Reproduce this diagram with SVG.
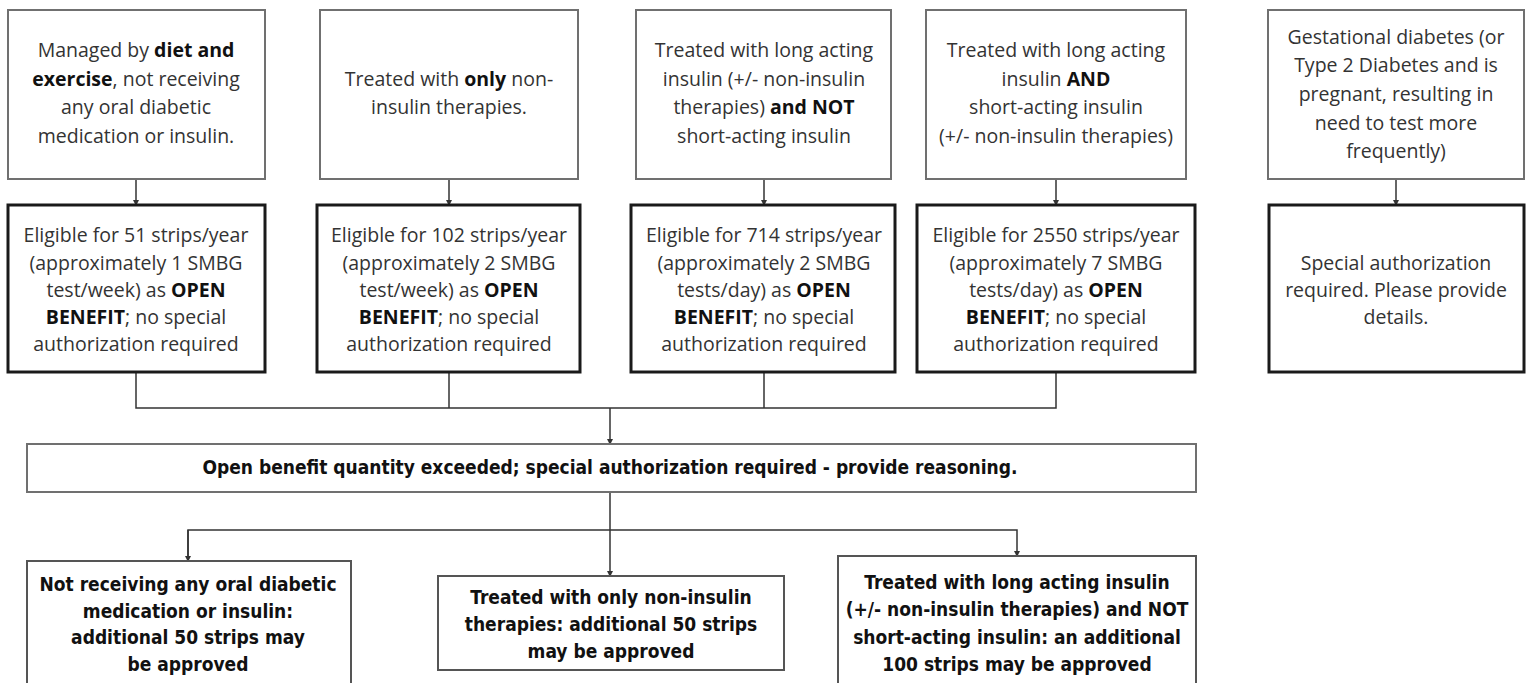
<svg xmlns="http://www.w3.org/2000/svg" width="1532" height="683" viewBox="0 0 1532 683">
<style>
.b1{fill:#fff;stroke:#707070;stroke-width:2}
.b2{fill:#fff;stroke:#1a1a1a;stroke-width:3}
.b3{fill:#fff;stroke:#555;stroke-width:2}
.t{font-family:"Open Sans","Noto Sans",sans-serif;font-size:19.5px;fill:#333;text-anchor:middle}
.bd{font-weight:bold;fill:#111}
.n{font-family:"Liberation Sans Narrow","DejaVu Sans Condensed",sans-serif;font-weight:bold;font-size:19px;fill:#111;text-anchor:middle}
.c{fill:none;stroke:#333;stroke-width:1.5}
</style>
<defs>
<marker id="ah" markerWidth="6" markerHeight="6" refX="5" refY="3" orient="auto" markerUnits="userSpaceOnUse">
<path d="M0,0 L6,3 L0,6 z" fill="#333"/>
</marker>
</defs>
<rect width="1532" height="683" fill="#fff"/>
<g id="connectors">
<path class="c" d="M136,179 V205" marker-end="url(#ah)"/>
<path class="c" d="M449,179 V205" marker-end="url(#ah)"/>
<path class="c" d="M764,179 V205" marker-end="url(#ah)"/>
<path class="c" d="M1056,179 V205" marker-end="url(#ah)"/>
<path class="c" d="M1396,179 V205" marker-end="url(#ah)"/>
<path class="c" d="M136,372 V408 H1056 V372"/>
<path class="c" d="M449,372 V408"/>
<path class="c" d="M764,372 V408"/>
<path class="c" d="M610,408 V444" marker-end="url(#ah)"/>
<path class="c" d="M610,492 V576" marker-end="url(#ah)"/>
<path class="c" d="M188,561 V530 H1017 V556" marker-end="url(#ah)"/>
<path class="c" d="M188,530 V561" marker-end="url(#ah)"/>
</g>
<g id="n1">
<rect class="b1" x="8" y="10" width="257" height="169"/>
<text class="t" x="136" y="57">Managed by <tspan class="bd">diet and</tspan></text>
<text class="t" x="136" y="86"><tspan class="bd">exercise</tspan>, not receiving</text>
<text class="t" x="136" y="114">any oral diabetic</text>
<text class="t" x="136" y="143">medication or insulin.</text>
</g>
<g id="n2">
<rect class="b1" x="320" y="10" width="258" height="169"/>
<text class="t" x="449" y="86">Treated with <tspan class="bd">only</tspan> non-</text>
<text class="t" x="449" y="114">insulin therapies.</text>
</g>
<g id="n3">
<rect class="b1" x="636" y="10" width="255" height="169"/>
<text class="t" x="764" y="57">Treated  with long acting</text>
<text class="t" x="764" y="86">insulin (+/- non-insulin</text>
<text class="t" x="764" y="114">therapies) <tspan class="bd">and NOT</tspan></text>
<text class="t" x="764" y="143">short-acting insulin</text>
</g>
<g id="n4">
<rect class="b1" x="926" y="10" width="260" height="169"/>
<text class="t" x="1056" y="57">Treated with long acting</text>
<text class="t" x="1056" y="86">insulin <tspan class="bd">AND</tspan></text>
<text class="t" x="1056" y="114">short-acting insulin</text>
<text class="t" x="1056" y="143">(+/- non-insulin therapies)</text>
</g>
<g id="n5">
<rect class="b1" x="1268" y="10" width="256" height="169"/>
<text class="t" x="1396" y="44">Gestational diabetes (or</text>
<text class="t" x="1396" y="72">Type 2 Diabetes and is</text>
<text class="t" x="1396" y="101">pregnant, resulting in</text>
<text class="t" x="1396" y="130">need to test more</text>
<text class="t" x="1396" y="158">frequently)</text>
</g>
<g id="e1">
<rect class="b2" x="8" y="205" width="257" height="167"/>
<text class="t" x="136" y="242">Eligible for 51 strips/year</text>
<text class="t" x="136" y="270">(approximately 1 SMBG</text>
<text class="t" x="136" y="297">test/week) as <tspan class="bd">OPEN</tspan></text>
<text class="t" x="136" y="324"><tspan class="bd">BENEFIT</tspan>; no special</text>
<text class="t" x="136" y="351">authorization required</text>
</g>
<g id="e2">
<rect class="b2" x="317" y="205" width="263" height="167"/>
<text class="t" x="449" y="242">Eligible for 102 strips/year</text>
<text class="t" x="449" y="270">(approximately 2 SMBG</text>
<text class="t" x="449" y="297">test/week) as <tspan class="bd">OPEN</tspan></text>
<text class="t" x="449" y="324"><tspan class="bd">BENEFIT</tspan>; no special</text>
<text class="t" x="449" y="351">authorization required</text>
</g>
<g id="e3">
<rect class="b2" x="631" y="205" width="264" height="167"/>
<text class="t" x="764" y="242">Eligible for 714 strips/year</text>
<text class="t" x="764" y="270">(approximately 2 SMBG</text>
<text class="t" x="764" y="297">tests/day) as <tspan class="bd">OPEN</tspan></text>
<text class="t" x="764" y="324"><tspan class="bd">BENEFIT</tspan>; no special</text>
<text class="t" x="764" y="351">authorization required</text>
</g>
<g id="e4">
<rect class="b2" x="917" y="205" width="278" height="167"/>
<text class="t" x="1056" y="242">Eligible for 2550 strips/year</text>
<text class="t" x="1056" y="270">(approximately 7 SMBG</text>
<text class="t" x="1056" y="297">tests/day) as <tspan class="bd">OPEN</tspan></text>
<text class="t" x="1056" y="324"><tspan class="bd">BENEFIT</tspan>; no special</text>
<text class="t" x="1056" y="351">authorization required</text>
</g>
<g id="e5">
<rect class="b2" x="1269" y="205" width="255" height="167"/>
<text class="t" x="1396" y="270">Special authorization</text>
<text class="t" x="1396" y="297">required. Please provide</text>
<text class="t" x="1396" y="324">details.</text>
</g>
<g id="ob">
<rect class="b1" x="27" y="444" width="1169" height="48"/>
<text class="n" x="610" y="474" font-size="18">Open benefit quantity exceeded; special authorization required - provide reasoning.</text>
</g>
<g id="a1">
<rect class="b3" x="27" y="561" width="324" height="130"/>
<text class="n" x="188" y="591">Not receiving any oral diabetic</text>
<text class="n" x="188" y="618">medication or insulin:</text>
<text class="n" x="188" y="644">additional 50 strips may</text>
<text class="n" x="188" y="671">be approved</text>
</g>
<g id="a2">
<rect class="b3" x="438" y="576" width="346" height="94"/>
<text class="n" x="611" y="604">Treated with only non-insulin</text>
<text class="n" x="611" y="631">therapies: additional 50 strips</text>
<text class="n" x="611" y="658">may be approved</text>
</g>
<g id="a3">
<rect class="b3" x="838" y="556" width="358" height="135"/>
<text class="n" x="1017" y="589">Treated with long acting insulin</text>
<text class="n" x="1017" y="616">(+/- non-insulin therapies) and NOT</text>
<text class="n" x="1017" y="644">short-acting insulin: an additional</text>
<text class="n" x="1017" y="671">100 strips may be approved</text>
</g>
</svg>
